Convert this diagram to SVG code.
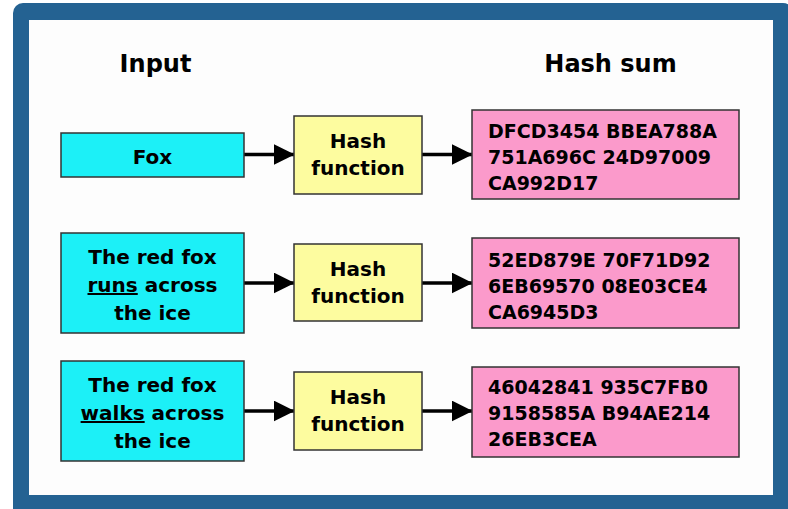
<svg xmlns="http://www.w3.org/2000/svg" width="788" height="509" viewBox="0 0 788 509">
  <style>
    text { font-family: "DejaVu Sans", Verdana, sans-serif; font-weight: bold; fill: #000; }
    .head { font-size: 24px; text-anchor: middle; }
    .lbl { font-size: 20px; text-anchor: middle; }
    .hex { font-size: 19px; }
    .input { fill: #1cf0f7; stroke: #333; stroke-width: 1.5; }
    .fn { fill: #fdfc9f; stroke: #333; stroke-width: 1.5; }
    .sum { fill: #fb9acb; stroke: #333; stroke-width: 1.5; }
    .edge { stroke: #000; stroke-width: 3.5; fill: none; marker-end: url(#head); }
  </style>
  <defs>
    <marker id="head" markerWidth="6" markerHeight="6" refX="5.8" refY="3" orient="auto" markerUnits="strokeWidth" viewBox="0 0 6 6">
      <path d="M0,0 L6,3 L0,6 Z" fill="#000"/>
    </marker>
  </defs>

  <!-- page background and frame -->
  <rect x="0" y="0" width="788" height="509" fill="#ffffff"/>
  <rect x="13" y="3" width="780" height="520" rx="10" fill="#246292"/>
  <rect x="29" y="20" width="744" height="475" fill="#fdfdfd"/>

  <!-- column headings -->
  <text class="head" x="155.5" y="72">Input</text>
  <text class="head" x="610.5" y="72">Hash sum</text>

  <!-- connectors -->
  <g id="connectors">
    <line class="edge" x1="244" y1="154.5" x2="294" y2="154.5"/>
    <line class="edge" x1="422" y1="154.5" x2="472" y2="154.5"/>
    <line class="edge" x1="244" y1="283" x2="294" y2="283"/>
    <line class="edge" x1="422" y1="283" x2="472" y2="283"/>
    <line class="edge" x1="244" y1="411" x2="294" y2="411"/>
    <line class="edge" x1="422" y1="411" x2="472" y2="411"/>
  </g>

  <!-- row 1 -->
  <g id="input1">
    <rect class="input" x="61" y="133" width="183" height="44"/>
    <text class="lbl" x="152.5" y="164">Fox</text>
  </g>
  <g id="hash1">
    <rect class="fn" x="294" y="116" width="128" height="78"/>
    <text class="lbl" x="358" y="148">Hash</text>
    <text class="lbl" x="358" y="175">function</text>
  </g>
  <g id="sum1">
    <rect class="sum" x="472" y="110" width="267" height="89"/>
    <text class="hex" x="488" y="138">DFCD3454 BBEA788A</text>
    <text class="hex" x="488" y="164">751A696C 24D97009</text>
    <text class="hex" x="488" y="190">CA992D17</text>
  </g>

  <!-- row 2 -->
  <g id="input2">
    <rect class="input" x="61" y="233" width="183" height="100"/>
    <text class="lbl" x="152.5" y="264">The red fox</text>
    <text class="lbl" x="152.5" y="292"><tspan text-decoration="underline">runs</tspan> across</text>
    <text class="lbl" x="152.5" y="320">the ice</text>
  </g>
  <g id="hash2">
    <rect class="fn" x="294" y="244" width="128" height="77"/>
    <text class="lbl" x="358" y="276">Hash</text>
    <text class="lbl" x="358" y="303">function</text>
  </g>
  <g id="sum2">
    <rect class="sum" x="472" y="238" width="267" height="90"/>
    <text class="hex" x="488" y="267">52ED879E 70F71D92</text>
    <text class="hex" x="488" y="293">6EB69570 08E03CE4</text>
    <text class="hex" x="488" y="319">CA6945D3</text>
  </g>

  <!-- row 3 -->
  <g id="input3">
    <rect class="input" x="61" y="361" width="183" height="100"/>
    <text class="lbl" x="152.5" y="392">The red fox</text>
    <text class="lbl" x="152.5" y="420"><tspan text-decoration="underline">walks</tspan> across</text>
    <text class="lbl" x="152.5" y="448">the ice</text>
  </g>
  <g id="hash3">
    <rect class="fn" x="294" y="372" width="128" height="78"/>
    <text class="lbl" x="358" y="404">Hash</text>
    <text class="lbl" x="358" y="431">function</text>
  </g>
  <g id="sum3">
    <rect class="sum" x="472" y="367" width="267" height="90"/>
    <text class="hex" x="488" y="394">46042841 935C7FB0</text>
    <text class="hex" x="488" y="420">9158585A B94AE214</text>
    <text class="hex" x="488" y="446">26EB3CEA</text>
  </g>
</svg>
